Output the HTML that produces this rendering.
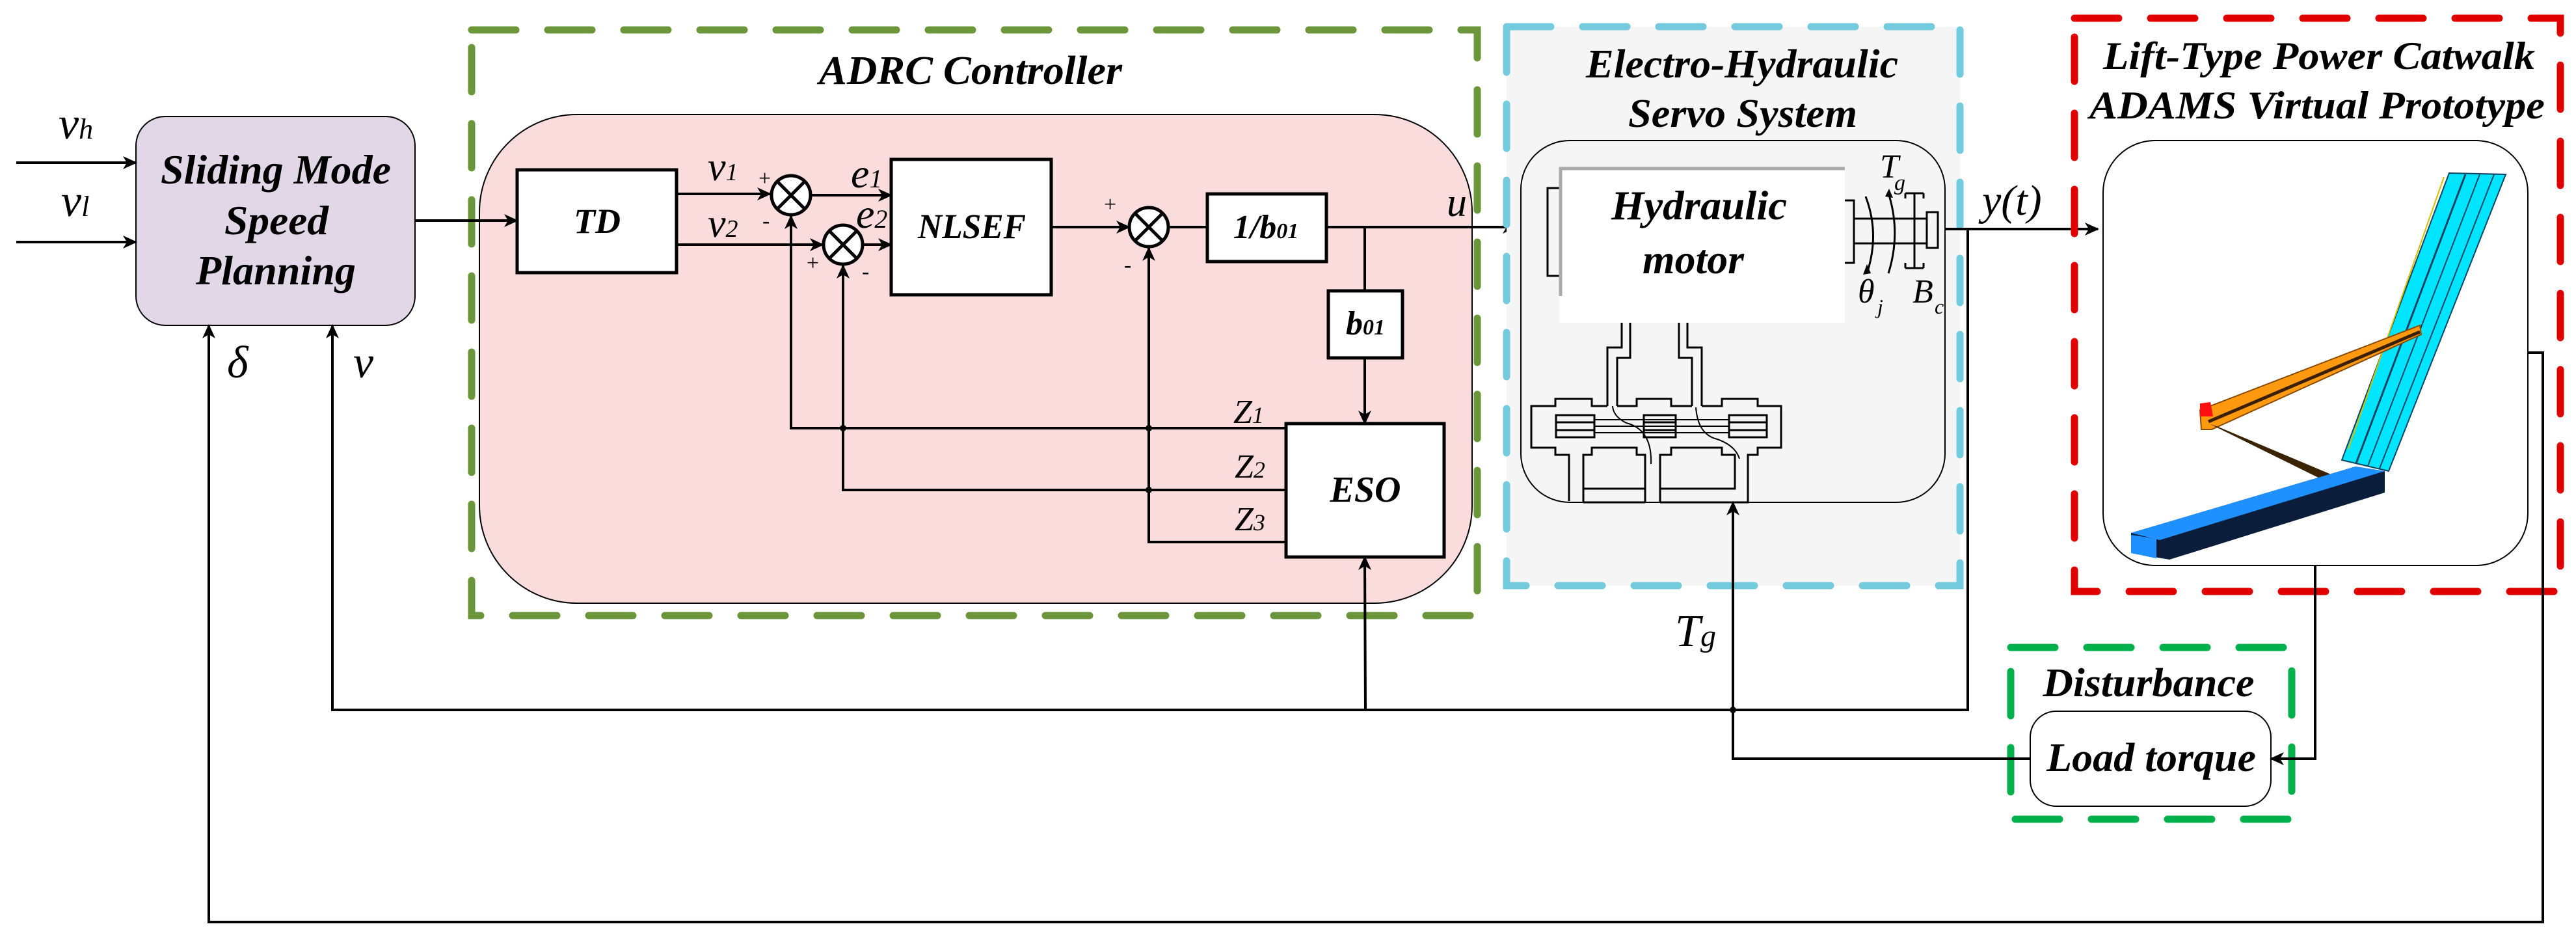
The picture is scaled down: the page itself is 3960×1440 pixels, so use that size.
<!DOCTYPE html>
<html><head><meta charset="utf-8">
<style>
html,body{margin:0;padding:0;background:#fff;}
svg{display:block;}
svg, svg text, svg tspan{font-family:"Liberation Serif","Times New Roman","DejaVu Serif",serif !important;}
.b{font-weight:bold;font-style:italic;}
.i{font-style:italic;}
</style></head>
<body>
<svg width="3960" height="1440" viewBox="0 0 3960 1440" xmlns="http://www.w3.org/2000/svg" font-family="'Liberation Serif', 'Times New Roman', serif">
<defs>
<marker id="ar" markerWidth="22" markerHeight="20" refX="20" refY="10" orient="auto" markerUnits="userSpaceOnUse">
<path d="M0,0 L22,10 L0,20 L6,10 Z" fill="#000"/>
</marker>
</defs>

<!-- Sliding Mode box -->
<rect x="209" y="179" width="429" height="321" rx="45" fill="#e1d7e6" stroke="#000" stroke-width="2"/>
<text class="b" x="424" y="282" font-size="64" text-anchor="middle" textLength="354" lengthAdjust="spacingAndGlyphs">Sliding Mode</text>
<text class="b" x="425" y="360" font-size="64" text-anchor="middle" textLength="160" lengthAdjust="spacingAndGlyphs">Speed</text>
<text class="b" x="424" y="437" font-size="64" text-anchor="middle" textLength="246" lengthAdjust="spacingAndGlyphs">Planning</text>

<!-- inputs -->
<line x1="25" y1="250" x2="209" y2="250" stroke="#000" stroke-width="4" marker-end="url(#ar)"/>
<line x1="25" y1="372" x2="209" y2="372" stroke="#000" stroke-width="4" marker-end="url(#ar)"/>
<text class="i" x="90" y="213" font-size="70">v<tspan font-size="44">h</tspan></text>
<text class="i" x="94" y="332" font-size="70">v<tspan font-size="44">l</tspan></text>

<!-- ADRC green dashed -->
<rect x="725" y="46" width="1546" height="900" fill="none" stroke="#6b963a" stroke-width="11" stroke-dasharray="68 49" stroke-linecap="round"/>
<text class="b" x="1492" y="129" font-size="62" text-anchor="middle" textLength="466" lengthAdjust="spacingAndGlyphs">ADRC Controller</text>
<rect x="737" y="176" width="1526" height="751" rx="150" fill="#f9dcdb" stroke="#000" stroke-width="2"/>

<!-- SMSP -> TD -->
<line x1="638" y1="339" x2="795" y2="339" stroke="#000" stroke-width="4" marker-end="url(#ar)"/>
<!-- TD -->
<rect x="795" y="261" width="245" height="158" fill="#fff" stroke="#000" stroke-width="5"/>
<text class="b" x="918" y="358" font-size="54" text-anchor="middle">TD</text>

<!-- v1 v2 -->
<line x1="1040" y1="298" x2="1184" y2="298" stroke="#000" stroke-width="4" marker-end="url(#ar)"/>
<line x1="1040" y1="376" x2="1265" y2="376" stroke="#000" stroke-width="4" marker-end="url(#ar)"/>
<text class="i" x="1088" y="277" font-size="62">v<tspan font-size="38">1</tspan></text>
<text class="i" x="1088" y="364" font-size="62">v<tspan font-size="38">2</tspan></text>

<!-- feedback verticals -->
<polyline points="1977,658 1216,658 1216,332" fill="none" stroke="#000" stroke-width="4" marker-end="url(#ar)"/>
<polyline points="1977,753 1296,753 1296,408" fill="none" stroke="#000" stroke-width="4" marker-end="url(#ar)"/>
<polyline points="1977,833 1766,833 1766,381" fill="none" stroke="#000" stroke-width="4" marker-end="url(#ar)"/>
<circle cx="1296" cy="658" r="5"/>
<circle cx="1766" cy="658" r="5"/>
<circle cx="1766" cy="753" r="5"/>

<!-- sums -->
<g stroke="#000" stroke-width="5" fill="#fff">
<circle cx="1216" cy="300" r="30"/>
<circle cx="1296" cy="376" r="30"/>
<circle cx="1766" cy="349" r="30"/>
</g>
<g stroke="#000" stroke-width="5">
<line x1="1195" y1="279" x2="1237" y2="321"/><line x1="1237" y1="279" x2="1195" y2="321"/>
<line x1="1275" y1="355" x2="1317" y2="397"/><line x1="1317" y1="355" x2="1275" y2="397"/>
<line x1="1745" y1="328" x2="1787" y2="370"/><line x1="1787" y1="328" x2="1745" y2="370"/>
</g>
<g font-size="34">
<text x="1166" y="285">+</text><text x="1172" y="350">-</text>
<text x="1240" y="415">+</text><text x="1325" y="428">-</text>
<text x="1697" y="325">+</text><text x="1728" y="418">-</text>
</g>

<!-- e1 e2 -->
<line x1="1246" y1="300" x2="1370" y2="300" stroke="#000" stroke-width="4" marker-end="url(#ar)"/>
<line x1="1326" y1="376" x2="1370" y2="376" stroke="#000" stroke-width="4" marker-end="url(#ar)"/>
<text class="i" x="1308" y="288" font-size="64">e<tspan font-size="40">1</tspan></text>
<text class="i" x="1316" y="350" font-size="64">e<tspan font-size="40">2</tspan></text>

<!-- NLSEF -->
<rect x="1370" y="245" width="246" height="208" fill="#fff" stroke="#000" stroke-width="5"/>
<text class="b" x="1494" y="366" font-size="54" text-anchor="middle" textLength="166" lengthAdjust="spacingAndGlyphs">NLSEF</text>
<line x1="1616" y1="349" x2="1736" y2="349" stroke="#000" stroke-width="4" marker-end="url(#ar)"/>

<!-- 1/b01 -->
<line x1="1796" y1="349" x2="1856" y2="349" stroke="#000" stroke-width="4"/>
<rect x="1856" y="298" width="183" height="104" fill="#fff" stroke="#000" stroke-width="5"/>
<text class="b" x="1946" y="366" font-size="52" text-anchor="middle">1/b<tspan font-size="34">01</tspan></text>

<!-- u -->
<line x1="2039" y1="349" x2="2330" y2="349" stroke="#000" stroke-width="4" marker-end="url(#ar)"/>
<text class="i" x="2224" y="332" font-size="62">u</text>
<line x1="2098" y1="349" x2="2098" y2="447" stroke="#000" stroke-width="4"/>
<rect x="2042" y="447" width="114" height="103" fill="#fff" stroke="#000" stroke-width="5"/>
<text class="b" x="2099" y="514" font-size="52" text-anchor="middle">b<tspan font-size="34">01</tspan></text>
<line x1="2098" y1="550" x2="2098" y2="651" stroke="#000" stroke-width="4" marker-end="url(#ar)"/>

<!-- ESO -->
<rect x="1977" y="651" width="243" height="205" fill="#fff" stroke="#000" stroke-width="5"/>
<text class="b" x="2099" y="771" font-size="56" text-anchor="middle">ESO</text>
<text class="i" x="1896" y="650" font-size="52">Z<tspan font-size="36">1</tspan></text>
<text class="i" x="1898" y="734" font-size="52">Z<tspan font-size="36">2</tspan></text>
<text class="i" x="1898" y="815" font-size="52">Z<tspan font-size="36">3</tspan></text>

<!-- Electro-hydraulic -->
<rect x="2316" y="41" width="697" height="859" fill="#f5f5f5" stroke="#74cbdd" stroke-width="11" stroke-dasharray="68 49" stroke-linecap="round"/>
<text class="b" x="2678" y="119" font-size="62" text-anchor="middle" textLength="480" lengthAdjust="spacingAndGlyphs">Electro-Hydraulic</text>
<text class="b" x="2679" y="195" font-size="62" text-anchor="middle" textLength="352" lengthAdjust="spacingAndGlyphs">Servo System</text>
<rect x="2338" y="216" width="652" height="556" rx="75" fill="#f5f5f5" stroke="#000" stroke-width="2"/>

<!-- motor -->
<rect x="2379" y="289" width="20" height="135" fill="none" stroke="#000" stroke-width="3"/>
<rect x="2397" y="257" width="439" height="239" fill="#fff"/>
<line x1="2397" y1="259" x2="2836" y2="259" stroke="#aaa" stroke-width="5"/>
<line x1="2399" y1="257" x2="2399" y2="455" stroke="#aaa" stroke-width="5"/>
<text class="b" x="2612" y="337" font-size="64" text-anchor="middle" textLength="270" lengthAdjust="spacingAndGlyphs">Hydraulic</text>
<text class="b" x="2603" y="420" font-size="64" text-anchor="middle" textLength="156" lengthAdjust="spacingAndGlyphs">motor</text>

<!-- shaft -->
<g stroke="#000" stroke-width="3" fill="none">
<polyline points="2836,308 2850,308 2850,404 2836,404"/>
<line x1="2850" y1="336" x2="2962" y2="336"/>
<line x1="2850" y1="374" x2="2962" y2="374"/>
<rect x="2962" y="326" width="17" height="55"/>
<line x1="2943" y1="297" x2="2943" y2="412"/>
<polyline points="2929,297 2957,297"/><polyline points="2929,412 2957,412"/>
<polyline points="2929,297 2929,305"/><polyline points="2957,297 2957,305"/>
<polyline points="2929,412 2929,404"/><polyline points="2957,412 2957,404"/>
<path d="M2868,302 Q2890,360 2870,420"/>
<path d="M2903,420 Q2922,360 2904,300"/>
</g>
<path d="M2864,422 L2870,406 L2876,420 Z" fill="#000"/>
<path d="M2898,302 L2904,290 L2910,304 Z" fill="#000"/>
<text class="i" x="2890" y="273" font-size="52">T</text><text class="i" x="2912" y="292" font-size="34">g</text>
<text class="i" x="2856" y="465" font-size="52">θ</text><text class="i" x="2886" y="482" font-size="32">j</text>
<text class="i" x="2940" y="465" font-size="52">B</text><text class="i" x="2974" y="482" font-size="32">c</text>

<!-- spool valve -->
<g stroke="#000" stroke-width="3" fill="none">
<polyline points="2471,624 2471,534 2493,534 2493,496"/>
<polyline points="2486,624 2486,550 2506,550 2506,496"/>
<polyline points="2581,496 2581,550 2601,550 2601,624"/>
<polyline points="2594,496 2594,534 2616,534 2616,624"/>
<polyline points="2471,624 2447,624 2447,613 2391,613 2391,624 2354,624 2354,688 2391,688 2391,699 2412,699 2412,770"/>
<polyline points="2486,624 2516,624 2516,613 2569,613 2569,624 2601,624"/>
<polyline points="2616,624 2647,624 2647,613 2702,613 2702,624 2738,624 2738,688 2702,688 2702,699 2687,699 2687,772 2552,772"/>
<polyline points="2434,772 2434,699 2447,699 2447,688 2516,688 2516,699 2529,699 2529,772"/>
<polyline points="2552,772 2552,699 2569,699 2569,688 2647,688 2647,699 2667,699 2667,751 2552,751"/>
<line x1="2434" y1="751" x2="2529" y2="751"/>
<line x1="2434" y1="772" x2="2529" y2="772"/>
<rect x="2392" y="638" width="59" height="34"/>
<rect x="2527" y="638" width="49" height="34"/>
<rect x="2658" y="638" width="58" height="34"/>
<line x1="2392" y1="649" x2="2451" y2="649"/><line x1="2392" y1="661" x2="2451" y2="661"/>
<line x1="2527" y1="649" x2="2576" y2="649"/><line x1="2527" y1="661" x2="2576" y2="661"/>
<line x1="2658" y1="649" x2="2716" y2="649"/><line x1="2658" y1="661" x2="2716" y2="661"/>
<line x1="2451" y1="645" x2="2658" y2="645" stroke-width="2"/>
<line x1="2451" y1="655" x2="2658" y2="655" stroke-width="2"/>
<line x1="2451" y1="665" x2="2658" y2="665" stroke-width="2"/>
<path d="M2538,713 Q2540,660 2500,650 Q2480,640 2479,624" stroke-width="2"/>
<path d="M2607,626 Q2610,668 2640,675 Q2668,685 2674,705" stroke-width="2"/>
</g>

<!-- y(t) -->
<line x1="2990" y1="352" x2="3225" y2="352" stroke="#000" stroke-width="4" marker-end="url(#ar)"/>
<text class="i" x="3047" y="330" font-size="66">y(t)</text>

<!-- red box -->
<rect x="3189" y="28" width="747" height="881" fill="none" stroke="#e00000" stroke-width="11" stroke-dasharray="68 49" stroke-linecap="round"/>
<text class="b" x="3565" y="106" font-size="60" text-anchor="middle" textLength="664" lengthAdjust="spacingAndGlyphs">Lift-Type Power Catwalk</text>
<text class="b" x="3562" y="182" font-size="60" text-anchor="middle" textLength="700" lengthAdjust="spacingAndGlyphs">ADAMS Virtual Prototype</text>
<rect x="3233" y="216" width="653" height="653" rx="80" fill="#fff" stroke="#000" stroke-width="2"/>

<!-- catwalk -->
<polygon points="3765,266 3852,268 3672,724 3600,707" fill="#00e5ff" stroke="#0a4060" stroke-width="2"/>
<line x1="3757" y1="272" x2="3610" y2="690" stroke="#d4c000" stroke-width="2"/>
<line x1="3790" y1="268" x2="3622" y2="712" stroke="#0a4060" stroke-width="3"/>
<line x1="3812" y1="268" x2="3640" y2="716" stroke="#0a4060" stroke-width="2"/>
<line x1="3834" y1="268" x2="3658" y2="720" stroke="#0a4060" stroke-width="2"/>
<polygon points="3382,630 3720,500 3722,514 3400,660 3384,660" fill="#ff9a10" stroke="#8a4a00" stroke-width="2"/>
<line x1="3395" y1="648" x2="3720" y2="510" stroke="#3a2000" stroke-width="5"/>
<polygon points="3382,620 3398,618 3402,640 3382,640" fill="#ff1010"/>
<polygon points="3398,652 3410,656 3600,736 3584,744" fill="#3a2400"/>
<polygon points="3276,819 3621,717 3666,724 3666,757 3335,860 3276,850" fill="#0a1e3c"/>
<polygon points="3276,819 3621,717 3666,724 3320,830" fill="#1e90ff"/>
<polygon points="3276,822 3315,828 3315,858 3276,850" fill="#1e90ff"/>

<!-- feedback lines -->
<polyline points="3025,352 3025,1091 511,1091 511,500" fill="none" stroke="#000" stroke-width="4" marker-end="url(#ar)"/>
<line x1="2099" y1="1091" x2="2098" y2="856" stroke="#000" stroke-width="4" marker-end="url(#ar)"/>
<polyline points="3886,542 3909,542 3909,1417 321,1417 321,500" fill="none" stroke="#000" stroke-width="4" marker-end="url(#ar)"/>
<text class="i" x="349" y="580" font-size="70">δ</text>
<text class="i" x="543" y="580" font-size="70">v</text>

<!-- Disturbance -->
<rect x="3091" y="995" width="432" height="264" fill="none" stroke="#00b04a" stroke-width="11" stroke-dasharray="68 49" stroke-linecap="round"/>
<text class="b" x="3303" y="1070" font-size="62" text-anchor="middle" textLength="325" lengthAdjust="spacingAndGlyphs">Disturbance</text>
<rect x="3121" y="1093" width="370" height="146" rx="40" fill="#fff" stroke="#000" stroke-width="2"/>
<text class="b" x="3307" y="1185" font-size="62" text-anchor="middle" textLength="322" lengthAdjust="spacingAndGlyphs">Load torque</text>
<polyline points="3559,869 3559,1166 3491,1166" fill="none" stroke="#000" stroke-width="4" marker-end="url(#ar)"/>
<polyline points="3121,1166 2664,1166 2664,772" fill="none" stroke="#000" stroke-width="4" marker-end="url(#ar)"/>
<circle cx="2664" cy="1091" r="5"/>
<text class="i" x="2575" y="993" font-size="70">T<tspan font-size="48">g</tspan></text>
</svg>
</body></html>
